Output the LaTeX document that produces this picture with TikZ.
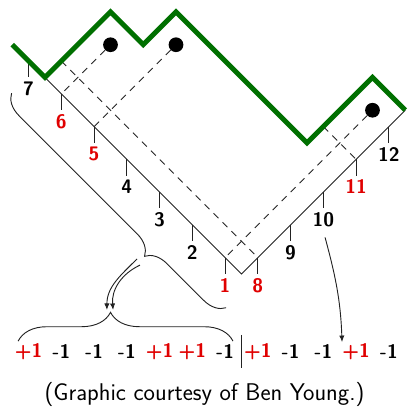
\documentclass[tikz,border=0pt]{standalone}
\usepackage{xcolor}
\usepackage{tikz}
\usetikzlibrary{arrows.meta,decorations.pathreplacing}
\definecolor{ygreen}{HTML}{007000}
\definecolor{yred}{HTML}{E00000}
\definecolor{yline}{HTML}{222222}
\tikzset{
  boundary/.style = {draw=ygreen, line width=4.3pt, line join=miter},
  frame/.style    = {draw=yline, line width=0.8pt},
  hook/.style     = {frame, dash pattern=on 6pt off 5pt},
  dot/.style      = {circle, fill=black, inner sep=0pt, minimum size=4.5mm},
  lab/.style      = {font=\fontsize{17}{20}\selectfont\sffamily\bfseries, anchor=north},
  sgn/.style      = {font=\fontsize{17}{20}\selectfont\sffamily\bfseries, inner sep=1pt},
  credit/.style   = {font=\fontsize{21}{25}\selectfont\sffamily, inner sep=0pt},
  brc/.style      = {frame, decorate, decoration={brace, amplitude=#1}},
  a/.style        = {-{Latex[length=2mm,width=1.6mm]}, frame},
}

\begin{document}
\begin{tikzpicture}

\useasboundingbox (-7.374,-4.031) rectangle (5.084,8.366);

% the frame: a V of unit steps, ticks at the middle of each step
\draw[frame] (-6,6) -- (0,0) -- (5,5);
\foreach \x/\n/\c in {-6.5/7/black, -5.5/6/yred, -4.5/5/yred, -3.5/4/black,
                      -2.5/3/black, -1.5/2/black, -0.5/1/yred} {
  \coordinate (p\n) at (\x,-\x);
  \draw[frame] (p\n) -- ++(0,-0.5) coordinate (q\n);
  \node[lab, text=\c] (l\n) at (q\n) {\n};
}
\foreach \x/\n/\c in {0.5/8/yred, 1.5/9/black, 2.5/10/black, 3.5/11/yred, 4.5/12/black} {
  \coordinate (p\n) at (\x,\x);
  \draw[frame] (p\n) -- ++(0,-0.5) coordinate (q\n);
  \node[lab, text=\c] (l\n) at (q\n) {\n};
}

% beads and their hooks
\node[dot] (d1) at (-4,7) {};
\node[dot] (d2) at (-2,7) {};
\node[dot] (d3) at (4,5)  {};
\coordinate (m1) at (-5.5,6.5);
\coordinate (m2) at (2.5,4.5);
\draw[hook] (d1) -- (p6);
\draw[hook] (d2) -- (p5);
\draw[hook] (d3) -- (p1);
\draw[hook] (m1) -- (p8);
\draw[hook] (m2) -- (p11);

\draw[boundary] (-7,7) -- (-6,6) -- (-4,8) -- (-3,7) -- (-2,8) -- (2,4) -- (4,6) -- (5,5);

% the sign sequence
\foreach \x/\v/\c [count=\i] in {-6.5/+1/yred, -5.5/-1/black, -4.5/-1/black, -3.5/-1/black,
                                 -2.5/+1/yred, -1.5/+1/yred, -0.5/-1/black, 0.5/+1/yred,
                                 1.5/-1/black, 2.5/-1/black, 3.5/+1/yred, 4.5/-1/black} {
  \node[sgn, text=\c] (s\i) at (\x,-2.38) {\v};
}
\coordinate (bar) at (0,-2.36);
\draw[frame] ([yshift=5mm]bar) -- ([yshift=-5.1mm]bar);

% braces and arrows
\coordinate (b1) at (-0.47,-1.03);
\coordinate (b2) at (-7.02,5.52);
\draw[brc=6.5mm, decoration={aspect=0.31}] (b1) -- (b2);
\coordinate (h1) at (-6.82,-2.05);
\coordinate (h2) at (-0.26,-2.05);
\draw[brc=8.8mm, decoration={aspect=0.43}] (h1) -- (h2);

\coordinate (aL) at (-3.19,0.46);
\coordinate (aR) at (-3.10,0.27);
\coordinate (eL) at (-4.11,-1.10);
\coordinate (eR) at (-3.92,-1.10);
\draw[a] (aL) to[out=225, in=90] (eL);
\draw[a] (aR) to[out=205, in=95] (eR);

\coordinate (t10) at (3.07,-2.08);
\draw[a, shorten <=2mm] (l10.south) to[out=-75, in=92] (t10);

\node[credit, anchor=base] (note) at (-1.13,-3.85) {(Graphic courtesy of Ben Young.)};

\end{tikzpicture}
\end{document}
